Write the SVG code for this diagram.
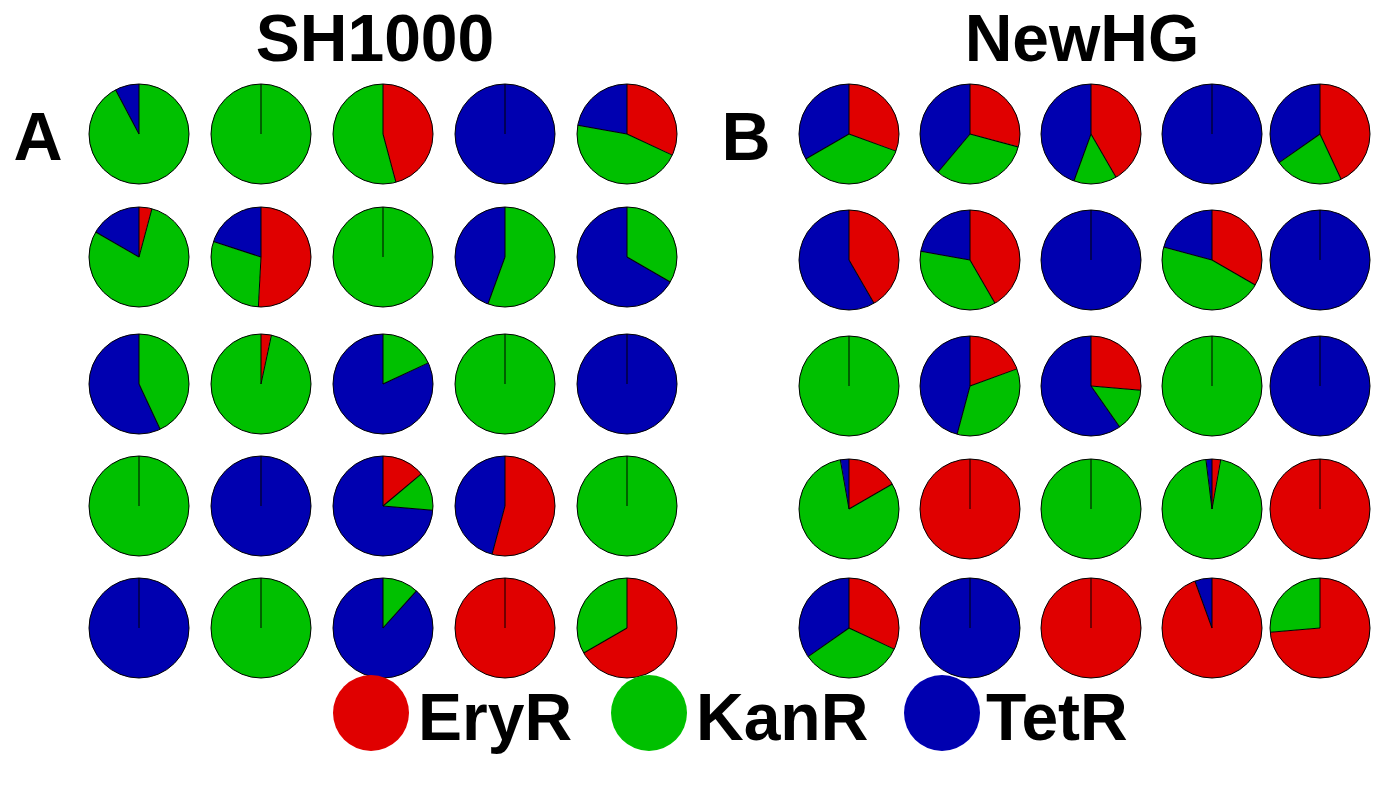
<svg xmlns="http://www.w3.org/2000/svg" width="1383" height="800" viewBox="0 0 1383 800">
<style>
.s{fill:none;stroke-width:50}
.R{stroke:#e00000}.G{stroke:#00c000}.B{stroke:#0000b0}
.fR{fill:#e00000}.fG{fill:#00c000}.fB{fill:#0000b0}
.o{fill:none;stroke:#000;stroke-width:1}
.l{stroke:#000;stroke-width:1}
text{font-family:"Liberation Sans",Arial,sans-serif;font-weight:bold;fill:#000}
</style>
<rect width="1383" height="800" fill="#fff"/>
<text x="375" y="61" font-size="66" text-anchor="middle">SH1000</text>
<text x="1082" y="61" font-size="66" text-anchor="middle">NewHG</text>
<text x="38" y="160" font-size="68" text-anchor="middle">A</text>
<text x="746" y="160" font-size="68" text-anchor="middle">B</text>
<!-- A row1 -->
<g id="a11" transform="translate(139,134)"><circle class="s G" r="25" pathLength="360" stroke-dasharray="332 400" transform="rotate(-90)"/><circle class="s B" r="25" pathLength="360" stroke-dasharray="28 400" stroke-dashoffset="-332" transform="rotate(-90)"/><line class="l" y2="-50" transform="rotate(332)"/><line class="l" y2="-50"/><circle class="o" r="50"/></g>
<g id="a12" transform="translate(261,134)"><circle class="fG" r="50"/><line class="l" y2="-50"/><circle class="o" r="50"/></g>
<g id="a13" transform="translate(383,134)"><circle class="s R" r="25" pathLength="360" stroke-dasharray="165 400" transform="rotate(-90)"/><circle class="s G" r="25" pathLength="360" stroke-dasharray="195 400" stroke-dashoffset="-165" transform="rotate(-90)"/><line class="l" y2="-50" transform="rotate(165)"/><line class="l" y2="-50"/><circle class="o" r="50"/></g>
<g id="a14" transform="translate(505,134)"><circle class="fB" r="50"/><line class="l" y2="-50"/><circle class="o" r="50"/></g>
<g id="a15" transform="translate(627,134)"><circle class="s R" r="25" pathLength="360" stroke-dasharray="115 400" transform="rotate(-90)"/><circle class="s G" r="25" pathLength="360" stroke-dasharray="165 400" stroke-dashoffset="-115" transform="rotate(-90)"/><circle class="s B" r="25" pathLength="360" stroke-dasharray="80 400" stroke-dashoffset="-280" transform="rotate(-90)"/><line class="l" y2="-50" transform="rotate(115)"/><line class="l" y2="-50" transform="rotate(280)"/><line class="l" y2="-50"/><circle class="o" r="50"/></g>
<!-- A row2 -->
<g id="a21" transform="translate(139,257)"><circle class="s R" r="25" pathLength="360" stroke-dasharray="15 400" transform="rotate(-90)"/><circle class="s G" r="25" pathLength="360" stroke-dasharray="285 400" stroke-dashoffset="-15" transform="rotate(-90)"/><circle class="s B" r="25" pathLength="360" stroke-dasharray="60 400" stroke-dashoffset="-300" transform="rotate(-90)"/><line class="l" y2="-50" transform="rotate(15)"/><line class="l" y2="-50" transform="rotate(300)"/><line class="l" y2="-50"/><circle class="o" r="50"/></g>
<g id="a22" transform="translate(261,257)"><circle class="s R" r="25" pathLength="360" stroke-dasharray="183 400" transform="rotate(-90)"/><circle class="s G" r="25" pathLength="360" stroke-dasharray="105 400" stroke-dashoffset="-183" transform="rotate(-90)"/><circle class="s B" r="25" pathLength="360" stroke-dasharray="72 400" stroke-dashoffset="-288" transform="rotate(-90)"/><line class="l" y2="-50" transform="rotate(183)"/><line class="l" y2="-50" transform="rotate(288)"/><line class="l" y2="-50"/><circle class="o" r="50"/></g>
<g id="a23" transform="translate(383,257)"><circle class="fG" r="50"/><line class="l" y2="-50"/><circle class="o" r="50"/></g>
<g id="a24" transform="translate(505,257)"><circle class="s G" r="25" pathLength="360" stroke-dasharray="200 400" transform="rotate(-90)"/><circle class="s B" r="25" pathLength="360" stroke-dasharray="160 400" stroke-dashoffset="-200" transform="rotate(-90)"/><line class="l" y2="-50" transform="rotate(200)"/><line class="l" y2="-50"/><circle class="o" r="50"/></g>
<g id="a25" transform="translate(627,257)"><circle class="s G" r="25" pathLength="360" stroke-dasharray="120 400" transform="rotate(-90)"/><circle class="s B" r="25" pathLength="360" stroke-dasharray="240 400" stroke-dashoffset="-120" transform="rotate(-90)"/><line class="l" y2="-50" transform="rotate(120)"/><line class="l" y2="-50"/><circle class="o" r="50"/></g>
<!-- A row3 -->
<g id="a31" transform="translate(139,384)"><circle class="s G" r="25" pathLength="360" stroke-dasharray="155 400" transform="rotate(-90)"/><circle class="s B" r="25" pathLength="360" stroke-dasharray="205 400" stroke-dashoffset="-155" transform="rotate(-90)"/><line class="l" y2="-50" transform="rotate(155)"/><line class="l" y2="-50"/><circle class="o" r="50"/></g>
<g id="a32" transform="translate(261,384)"><circle class="s R" r="25" pathLength="360" stroke-dasharray="12 400" transform="rotate(-90)"/><circle class="s G" r="25" pathLength="360" stroke-dasharray="348 400" stroke-dashoffset="-12" transform="rotate(-90)"/><line class="l" y2="-50" transform="rotate(12)"/><line class="l" y2="-50"/><circle class="o" r="50"/></g>
<g id="a33" transform="translate(383,384)"><circle class="s G" r="25" pathLength="360" stroke-dasharray="65 400" transform="rotate(-90)"/><circle class="s B" r="25" pathLength="360" stroke-dasharray="295 400" stroke-dashoffset="-65" transform="rotate(-90)"/><line class="l" y2="-50" transform="rotate(65)"/><line class="l" y2="-50"/><circle class="o" r="50"/></g>
<g id="a34" transform="translate(505,384)"><circle class="fG" r="50"/><line class="l" y2="-50"/><circle class="o" r="50"/></g>
<g id="a35" transform="translate(627,384)"><circle class="fB" r="50"/><line class="l" y2="-50"/><circle class="o" r="50"/></g>
<!-- A row4 -->
<g id="a41" transform="translate(139,506)"><circle class="fG" r="50"/><line class="l" y2="-50"/><circle class="o" r="50"/></g>
<g id="a42" transform="translate(261,506)"><circle class="fB" r="50"/><line class="l" y2="-50"/><circle class="o" r="50"/></g>
<g id="a43" transform="translate(383,506)"><circle class="s R" r="25" pathLength="360" stroke-dasharray="50 400" transform="rotate(-90)"/><circle class="s G" r="25" pathLength="360" stroke-dasharray="45 400" stroke-dashoffset="-50" transform="rotate(-90)"/><circle class="s B" r="25" pathLength="360" stroke-dasharray="265 400" stroke-dashoffset="-95" transform="rotate(-90)"/><line class="l" y2="-50" transform="rotate(50)"/><line class="l" y2="-50" transform="rotate(95)"/><line class="l" y2="-50"/><circle class="o" r="50"/></g>
<g id="a44" transform="translate(505,506)"><circle class="s R" r="25" pathLength="360" stroke-dasharray="195 400" transform="rotate(-90)"/><circle class="s B" r="25" pathLength="360" stroke-dasharray="165 400" stroke-dashoffset="-195" transform="rotate(-90)"/><line class="l" y2="-50" transform="rotate(195)"/><line class="l" y2="-50"/><circle class="o" r="50"/></g>
<g id="a45" transform="translate(627,506)"><circle class="fG" r="50"/><line class="l" y2="-50"/><circle class="o" r="50"/></g>
<!-- A row5 -->
<g id="a51" transform="translate(139,628)"><circle class="fB" r="50"/><line class="l" y2="-50"/><circle class="o" r="50"/></g>
<g id="a52" transform="translate(261,628)"><circle class="fG" r="50"/><line class="l" y2="-50"/><circle class="o" r="50"/></g>
<g id="a53" transform="translate(383,628)"><circle class="s G" r="25" pathLength="360" stroke-dasharray="42 400" transform="rotate(-90)"/><circle class="s B" r="25" pathLength="360" stroke-dasharray="318 400" stroke-dashoffset="-42" transform="rotate(-90)"/><line class="l" y2="-50" transform="rotate(42)"/><line class="l" y2="-50"/><circle class="o" r="50"/></g>
<g id="a54" transform="translate(505,628)"><circle class="fR" r="50"/><line class="l" y2="-50"/><circle class="o" r="50"/></g>
<g id="a55" transform="translate(627,628)"><circle class="s R" r="25" pathLength="360" stroke-dasharray="240 400" transform="rotate(-90)"/><circle class="s G" r="25" pathLength="360" stroke-dasharray="120 400" stroke-dashoffset="-240" transform="rotate(-90)"/><line class="l" y2="-50" transform="rotate(240)"/><line class="l" y2="-50"/><circle class="o" r="50"/></g>
<!-- B row1 -->
<g id="b11" transform="translate(849,134)"><circle class="s R" r="25" pathLength="360" stroke-dasharray="110 400" transform="rotate(-90)"/><circle class="s G" r="25" pathLength="360" stroke-dasharray="130 400" stroke-dashoffset="-110" transform="rotate(-90)"/><circle class="s B" r="25" pathLength="360" stroke-dasharray="120 400" stroke-dashoffset="-240" transform="rotate(-90)"/><line class="l" y2="-50" transform="rotate(110)"/><line class="l" y2="-50" transform="rotate(240)"/><line class="l" y2="-50"/><circle class="o" r="50"/></g>
<g id="b12" transform="translate(970,134)"><circle class="s R" r="25" pathLength="360" stroke-dasharray="105 400" transform="rotate(-90)"/><circle class="s G" r="25" pathLength="360" stroke-dasharray="115 400" stroke-dashoffset="-105" transform="rotate(-90)"/><circle class="s B" r="25" pathLength="360" stroke-dasharray="140 400" stroke-dashoffset="-220" transform="rotate(-90)"/><line class="l" y2="-50" transform="rotate(105)"/><line class="l" y2="-50" transform="rotate(220)"/><line class="l" y2="-50"/><circle class="o" r="50"/></g>
<g id="b13" transform="translate(1091,134)"><circle class="s R" r="25" pathLength="360" stroke-dasharray="150 400" transform="rotate(-90)"/><circle class="s G" r="25" pathLength="360" stroke-dasharray="50 400" stroke-dashoffset="-150" transform="rotate(-90)"/><circle class="s B" r="25" pathLength="360" stroke-dasharray="160 400" stroke-dashoffset="-200" transform="rotate(-90)"/><line class="l" y2="-50" transform="rotate(150)"/><line class="l" y2="-50" transform="rotate(200)"/><line class="l" y2="-50"/><circle class="o" r="50"/></g>
<g id="b14" transform="translate(1212,134)"><circle class="fB" r="50"/><line class="l" y2="-50"/><circle class="o" r="50"/></g>
<g id="b15" transform="translate(1320,134)"><circle class="s R" r="25" pathLength="360" stroke-dasharray="155 400" transform="rotate(-90)"/><circle class="s G" r="25" pathLength="360" stroke-dasharray="80 400" stroke-dashoffset="-155" transform="rotate(-90)"/><circle class="s B" r="25" pathLength="360" stroke-dasharray="125 400" stroke-dashoffset="-235" transform="rotate(-90)"/><line class="l" y2="-50" transform="rotate(155)"/><line class="l" y2="-50" transform="rotate(235)"/><line class="l" y2="-50"/><circle class="o" r="50"/></g>
<!-- B row2 -->
<g id="b21" transform="translate(849,260)"><circle class="s R" r="25" pathLength="360" stroke-dasharray="150 400" transform="rotate(-90)"/><circle class="s B" r="25" pathLength="360" stroke-dasharray="210 400" stroke-dashoffset="-150" transform="rotate(-90)"/><line class="l" y2="-50" transform="rotate(150)"/><line class="l" y2="-50"/><circle class="o" r="50"/></g>
<g id="b22" transform="translate(970,260)"><circle class="s R" r="25" pathLength="360" stroke-dasharray="150 400" transform="rotate(-90)"/><circle class="s G" r="25" pathLength="360" stroke-dasharray="130 400" stroke-dashoffset="-150" transform="rotate(-90)"/><circle class="s B" r="25" pathLength="360" stroke-dasharray="80 400" stroke-dashoffset="-280" transform="rotate(-90)"/><line class="l" y2="-50" transform="rotate(150)"/><line class="l" y2="-50" transform="rotate(280)"/><line class="l" y2="-50"/><circle class="o" r="50"/></g>
<g id="b23" transform="translate(1091,260)"><circle class="fB" r="50"/><line class="l" y2="-50"/><circle class="o" r="50"/></g>
<g id="b24" transform="translate(1212,260)"><circle class="s R" r="25" pathLength="360" stroke-dasharray="120 400" transform="rotate(-90)"/><circle class="s G" r="25" pathLength="360" stroke-dasharray="165 400" stroke-dashoffset="-120" transform="rotate(-90)"/><circle class="s B" r="25" pathLength="360" stroke-dasharray="75 400" stroke-dashoffset="-285" transform="rotate(-90)"/><line class="l" y2="-50" transform="rotate(120)"/><line class="l" y2="-50" transform="rotate(285)"/><line class="l" y2="-50"/><circle class="o" r="50"/></g>
<g id="b25" transform="translate(1320,260)"><circle class="fB" r="50"/><line class="l" y2="-50"/><circle class="o" r="50"/></g>
<!-- B row3 -->
<g id="b31" transform="translate(849,386)"><circle class="fG" r="50"/><line class="l" y2="-50"/><circle class="o" r="50"/></g>
<g id="b32" transform="translate(970,386)"><circle class="s R" r="25" pathLength="360" stroke-dasharray="70 400" transform="rotate(-90)"/><circle class="s G" r="25" pathLength="360" stroke-dasharray="125 400" stroke-dashoffset="-70" transform="rotate(-90)"/><circle class="s B" r="25" pathLength="360" stroke-dasharray="165 400" stroke-dashoffset="-195" transform="rotate(-90)"/><line class="l" y2="-50" transform="rotate(70)"/><line class="l" y2="-50" transform="rotate(195)"/><line class="l" y2="-50"/><circle class="o" r="50"/></g>
<g id="b33" transform="translate(1091,386)"><circle class="s R" r="25" pathLength="360" stroke-dasharray="95 400" transform="rotate(-90)"/><circle class="s G" r="25" pathLength="360" stroke-dasharray="50 400" stroke-dashoffset="-95" transform="rotate(-90)"/><circle class="s B" r="25" pathLength="360" stroke-dasharray="215 400" stroke-dashoffset="-145" transform="rotate(-90)"/><line class="l" y2="-50" transform="rotate(95)"/><line class="l" y2="-50" transform="rotate(145)"/><line class="l" y2="-50"/><circle class="o" r="50"/></g>
<g id="b34" transform="translate(1212,386)"><circle class="fG" r="50"/><line class="l" y2="-50"/><circle class="o" r="50"/></g>
<g id="b35" transform="translate(1320,386)"><circle class="fB" r="50"/><line class="l" y2="-50"/><circle class="o" r="50"/></g>
<!-- B row4 -->
<g id="b41" transform="translate(849,509)"><circle class="s R" r="25" pathLength="360" stroke-dasharray="60 400" transform="rotate(-90)"/><circle class="s G" r="25" pathLength="360" stroke-dasharray="290 400" stroke-dashoffset="-60" transform="rotate(-90)"/><circle class="s B" r="25" pathLength="360" stroke-dasharray="10 400" stroke-dashoffset="-350" transform="rotate(-90)"/><line class="l" y2="-50" transform="rotate(60)"/><line class="l" y2="-50" transform="rotate(350)"/><line class="l" y2="-50"/><circle class="o" r="50"/></g>
<g id="b42" transform="translate(970,509)"><circle class="fR" r="50"/><line class="l" y2="-50"/><circle class="o" r="50"/></g>
<g id="b43" transform="translate(1091,509)"><circle class="fG" r="50"/><line class="l" y2="-50"/><circle class="o" r="50"/></g>
<g id="b44" transform="translate(1212,509)"><circle class="s R" r="25" pathLength="360" stroke-dasharray="10 400" transform="rotate(-90)"/><circle class="s G" r="25" pathLength="360" stroke-dasharray="343 400" stroke-dashoffset="-10" transform="rotate(-90)"/><circle class="s B" r="25" pathLength="360" stroke-dasharray="7 400" stroke-dashoffset="-353" transform="rotate(-90)"/><line class="l" y2="-50" transform="rotate(10)"/><line class="l" y2="-50" transform="rotate(353)"/><line class="l" y2="-50"/><circle class="o" r="50"/></g>
<g id="b45" transform="translate(1320,509)"><circle class="fR" r="50"/><line class="l" y2="-50"/><circle class="o" r="50"/></g>
<!-- B row5 -->
<g id="b51" transform="translate(849,628)"><circle class="s R" r="25" pathLength="360" stroke-dasharray="115 400" transform="rotate(-90)"/><circle class="s G" r="25" pathLength="360" stroke-dasharray="120 400" stroke-dashoffset="-115" transform="rotate(-90)"/><circle class="s B" r="25" pathLength="360" stroke-dasharray="125 400" stroke-dashoffset="-235" transform="rotate(-90)"/><line class="l" y2="-50" transform="rotate(115)"/><line class="l" y2="-50" transform="rotate(235)"/><line class="l" y2="-50"/><circle class="o" r="50"/></g>
<g id="b52" transform="translate(970,628)"><circle class="fB" r="50"/><line class="l" y2="-50"/><circle class="o" r="50"/></g>
<g id="b53" transform="translate(1091,628)"><circle class="fR" r="50"/><line class="l" y2="-50"/><circle class="o" r="50"/></g>
<g id="b54" transform="translate(1212,628)"><circle class="s R" r="25" pathLength="360" stroke-dasharray="340 400" transform="rotate(-90)"/><circle class="s B" r="25" pathLength="360" stroke-dasharray="20 400" stroke-dashoffset="-340" transform="rotate(-90)"/><line class="l" y2="-50" transform="rotate(340)"/><line class="l" y2="-50"/><circle class="o" r="50"/></g>
<g id="b55" transform="translate(1320,628)"><circle class="s R" r="25" pathLength="360" stroke-dasharray="265 400" transform="rotate(-90)"/><circle class="s G" r="25" pathLength="360" stroke-dasharray="95 400" stroke-dashoffset="-265" transform="rotate(-90)"/><line class="l" y2="-50" transform="rotate(265)"/><line class="l" y2="-50"/><circle class="o" r="50"/></g>
<!-- legend -->
<g id="legend">
<circle class="fR" cx="371" cy="713" r="38"/><text x="418" y="740" font-size="66">EryR</text>
<circle class="fG" cx="649" cy="713" r="38"/><text x="696" y="740" font-size="66">KanR</text>
<circle class="fB" cx="942" cy="713" r="38"/><text x="986" y="740" font-size="66">TetR</text>
</g>
</svg>
